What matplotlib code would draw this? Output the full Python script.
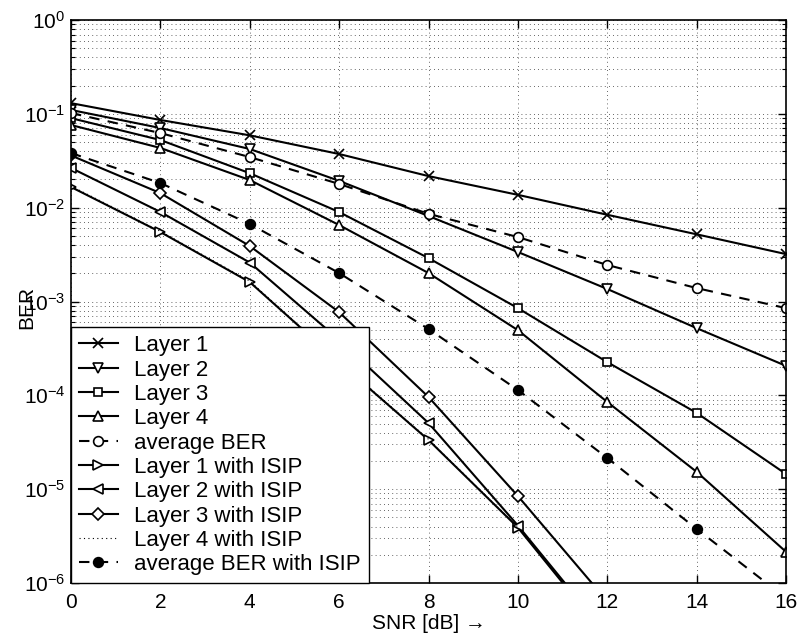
import matplotlib
matplotlib.use("Agg")
import matplotlib.pyplot as plt
from matplotlib.ticker import LogLocator, NullFormatter, FixedLocator

plt.rcParams['font.family'] = ['Liberation Sans', 'DejaVu Sans']
plt.rcParams['mathtext.fontset'] = 'custom'
plt.rcParams['mathtext.rm'] = 'Liberation Sans'
plt.rcParams['mathtext.it'] = 'Liberation Sans:italic'
plt.rcParams['mathtext.bf'] = 'Liberation Sans:bold'

snr = [0, 2, 4, 6, 8, 10, 12, 14, 16]
snr_isip = [0, 2, 4, 6, 8, 10, 12]

layer1 = [0.130, 0.086, 0.059, 0.0373, 0.0217, 0.0137, 0.0084, 0.0052, 0.0032]
layer2 = [0.110, 0.0706, 0.0422, 0.0193, 0.00815, 0.00337, 0.00136, 0.00052, 0.000206]
layer3 = [0.090, 0.0526, 0.0233, 0.00898, 0.0029, 0.00085, 0.000226, 6.5e-5, 1.45e-5]
layer4 = [0.076, 0.0433, 0.0197, 0.00653, 0.00201, 0.000495, 8.5e-5, 1.53e-5, 2.15e-6]
avg_ber = [0.102, 0.0624, 0.0346, 0.0179, 0.0086, 0.00486, 0.00245, 0.00139, 0.00085]

layer1_isip = [0.0166, 0.0055, 0.00161, 2.26e-4, 3.34e-5, 3.9e-6, 2.6e-7]
layer2_isip = [0.0265, 0.0090, 0.0026, 3.9e-4, 5.07e-5, 4.1e-6, 2.8e-7]
layer3_isip = [0.036, 0.0143, 0.0039, 7.7e-4, 9.6e-5, 8.45e-6, 6.4e-7]
layer4_isip = [0.0170, 0.0056, 0.00165, 2.3e-4, 3.4e-5, 3.95e-6, 2.65e-7]
avg_isip = [0.0382, 0.0183, 0.0067, 0.00201, 0.000509, 1.14e-4, 2.15e-5, 3.77e-6, 6.9e-7]

labels = ['Layer 1', 'Layer 2', 'Layer 3', 'Layer 4', 'average BER',
          'Layer 1 with ISIP', 'Layer 2 with ISIP', 'Layer 3 with ISIP',
          'Layer 4 with ISIP', 'average BER with ISIP']

fs = 15
lfs = 16

fig = plt.figure(figsize=(8, 6.33), dpi=100)
ax = fig.add_axes([71/800, 1-583/633, 715/800, 563/633])

lw = 1.5
ms = 7
common = dict(color='black', linewidth=lw, markersize=ms,
              markerfacecolor='white', markeredgecolor='black', markeredgewidth=1.2)
dash = (0, (5, 4))

ax.plot(snr, layer1, marker='x', label=labels[0], **common)
ax.plot(snr, layer2, marker='v', label=labels[1], **common)
ax.plot(snr, layer3, marker='s', label=labels[2], **{**common, 'markersize': 6})
ax.plot(snr, layer4, marker='^', label=labels[3], **common)
ax.plot(snr, avg_ber, marker='o', linestyle=dash, label=labels[4], **common)
ax.plot(snr_isip, layer1_isip, marker='>', label=labels[5], **common)
ax.plot(snr_isip, layer2_isip, marker='<', label=labels[6], **common)
ax.plot(snr_isip, layer3_isip, marker='D', label=labels[7], **{**common, 'markersize': 6})
ax.plot(snr_isip, layer4_isip, linestyle=(0, (1, 3)), color='black', linewidth=0.8,
        label=labels[8])
ax.plot(snr, avg_isip, marker='o', linestyle=dash, label=labels[9],
        **{**common, 'markerfacecolor': 'black'})

ax.set_yscale('log')
ax.set_xlim(0, 16)
ax.set_ylim(1e-6, 1)
ax.xaxis.set_major_locator(FixedLocator(snr))
ax.yaxis.set_major_locator(LogLocator(base=10, numticks=10))
ax.yaxis.set_minor_locator(LogLocator(base=10, subs=range(2, 10), numticks=20))
ax.yaxis.set_minor_formatter(NullFormatter())

gstyle = dict(color='#333333', linestyle=(0, (1, 4)), linewidth=0.6)
ax.grid(True, which='major', axis='both', **gstyle)
ax.grid(True, which='minor', axis='y', **gstyle)
ax.set_axisbelow(True)

ax.tick_params(which='both', direction='in', top=True, right=True, labelsize=fs)
ax.tick_params(which='major', length=6, width=1)
ax.tick_params(axis='x', which='major', pad=7)
ax.tick_params(axis='y', which='major', pad=4)
ax.tick_params(which='minor', length=3, width=0.8)
for s in ax.spines.values():
    s.set_linewidth(1.2)

ax.set_xlabel('SNR [dB] \u2192', fontsize=fs, va='top',
              family=['DejaVu Sans'] if False else ['Liberation Sans', 'DejaVu Sans'])
ax.set_ylabel('BER', fontsize=fs)
ax.yaxis.set_label_coords(-0.049, 0.49)
ax.xaxis.set_label_coords(0.5, -0.055)

leg = ax.legend(loc='lower left', fontsize=lfs, frameon=True, fancybox=False,
                borderaxespad=0.0, handlelength=1.75, labelspacing=0.15,
                handletextpad=0.75, borderpad=0.35)
leg.get_frame().set_edgecolor('black')
leg.get_frame().set_linewidth(1.0)
leg.get_frame().set_alpha(1)

fig.savefig('out.png', dpi=100)
